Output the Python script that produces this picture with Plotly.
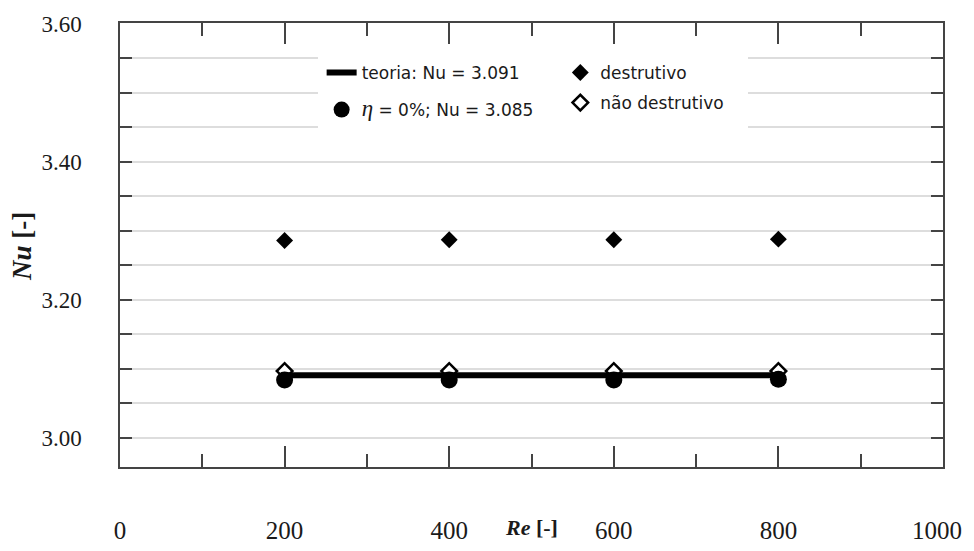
import plotly.graph_objects as go

re_vals = [200, 400, 600, 800]
nu_destrutivo = [3.286, 3.287, 3.287, 3.288]
nu_nao_destrutivo = [3.097, 3.097, 3.097, 3.097]
nu_eta0 = [3.084, 3.084, 3.084, 3.085]
teoria_x = [200, 800]
teoria_nu = [3.091, 3.091]

x_ticks = [0, 200, 400, 600, 800, 1000]
x_ticktext = ["0", "200", "400", "600", "800", ""]
x_last_label = "1000"
y_ticks = [3.00, 3.20, 3.40, 3.60]
y_ticktext = ["3.00", "3.20", "3.40", "3.60"]

fig = go.Figure()

fig.add_trace(go.Scatter(
    x=re_vals, y=nu_nao_destrutivo, mode="markers", name="não destrutivo",
    legend="legend2", legendrank=2, legendgroup="d2",
    marker=dict(symbol="diamond", size=12, color="white", line=dict(color="black", width=2.5)),
))
fig.add_trace(go.Scatter(
    x=teoria_x, y=teoria_nu, mode="lines", name="teoria: Nu = 3.091",
    legend="legend", legendrank=1, legendgroup="t",
    line=dict(color="black", width=6),
))
fig.add_trace(go.Scatter(
    x=re_vals, y=nu_eta0, mode="markers",
    name="<span style='font-family:Liberation Serif;font-size:23px'><i>η</i></span> = 0%; Nu = 3.085",
    legend="legend", legendrank=2, legendgroup="e",
    marker=dict(symbol="circle", size=17, color="black"),
))
fig.add_trace(go.Scatter(
    x=re_vals, y=nu_destrutivo, mode="markers", name="destrutivo",
    legend="legend2", legendrank=1, legendgroup="d1",
    marker=dict(symbol="diamond", size=13, color="black"),
))

axis_color = "#444444"
text_color = "#1a1a1a"
# page body has an 8px margin; figure is sized so the plot area lands at 120..943 x 23..467 in the window
fig.update_layout(
    width=958, height=535,
    margin=dict(l=112, r=23, t=15, b=76),
    paper_bgcolor="white", plot_bgcolor="white",
    font=dict(family="Liberation Serif", color=text_color),
    showlegend=True,
    legend=dict(
        x=0.245, y=0.928, xanchor="left", yanchor="top",
        bgcolor="rgba(0,0,0,0)", font=dict(family="DejaVu Sans", size=17, color=text_color),
        itemwidth=30, traceorder="grouped", tracegroupgap=12,
    ),
    legend2=dict(
        x=0.535, y=0.928, xanchor="left", yanchor="top",
        bgcolor="rgba(0,0,0,0)", font=dict(family="DejaVu Sans", size=17, color=text_color),
        itemwidth=30, traceorder="grouped", tracegroupgap=5,
    ),
    shapes=[dict(
        type="rect", xref="paper", yref="paper",
        x0=(318 - 120) / 823, x1=(748 - 120) / 823,
        y0=(467 - 138) / 444, y1=(467 - 52) / 444,
        fillcolor="white", line=dict(width=0), layer="above",
    )],
    annotations=[
        dict(text="<b><i>Re</i> [-]</b>", xref="paper", yref="paper", x=(531 - 120) / 823,
             y=(467 - 527) / 444, xanchor="center", yanchor="middle", showarrow=False,
             font=dict(family="Liberation Serif", size=22, color=text_color)),
        dict(text="<b><i>Nu</i> [-]</b>", xref="paper", yref="paper", x=(22 - 120) / 823,
             y=(467 - 247) / 444, xanchor="center", yanchor="middle", showarrow=False,
             textangle=-90, font=dict(family="Liberation Serif", size=27, color=text_color)),
        dict(text=x_last_label, xref="paper", yref="paper", x=(964 - 120) / 823,
             y=(467 - 530) / 444, xanchor="right", yanchor="middle", showarrow=False,
             font=dict(family="Liberation Serif", size=25, color=text_color)),
    ],
)

fig.update_xaxes(
    range=[0, 1000], automargin=False,
    tickmode="array", tickvals=x_ticks, ticktext=x_ticktext,
    ticks="inside", ticklen=21, tickwidth=1.5, tickcolor=axis_color,
    showgrid=False, zeroline=False,
    showline=True, linecolor=axis_color, linewidth=1.5, mirror="ticks",
    tickfont=dict(family="Liberation Serif", size=25, color=text_color),
    ticklabelstandoff=40,
    minor=dict(dtick=100, tick0=0, ticks="inside", ticklen=13, tickwidth=1.5, tickcolor=axis_color, showgrid=False),
)
fig.update_yaxes(
    range=[2.958, 3.601], automargin=False,
    tickmode="array", tickvals=y_ticks, ticktext=y_ticktext,
    ticks="inside", ticklen=12, tickwidth=1.5, tickcolor=axis_color,
    showgrid=True, gridcolor="#dddddd", gridwidth=1.5, zeroline=False,
    showline=True, linecolor=axis_color, linewidth=1.5, mirror="ticks",
    tickfont=dict(family="Liberation Serif", size=23, color=text_color),
    ticklabelstandoff=32,
    minor=dict(dtick=0.05, tick0=3.0, ticks="inside", ticklen=12, tickwidth=1.5, tickcolor=axis_color,
               showgrid=True, gridcolor="#dddddd", gridwidth=1.5),
)

fig.write_html("out.html")
